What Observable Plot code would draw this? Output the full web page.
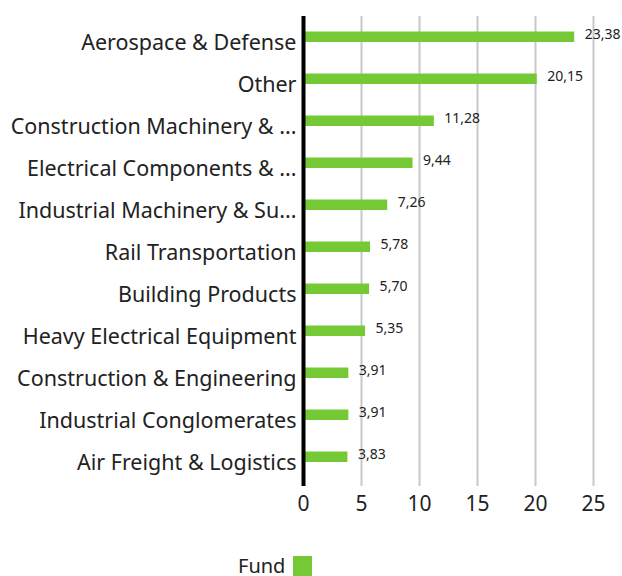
<!DOCTYPE html>
<html>
<head>
<meta charset="utf-8">
<script src="https://cdn.jsdelivr.net/npm/d3@7"></script>
<script src="https://cdn.jsdelivr.net/npm/@observablehq/plot@0.6"></script>
<style>
  body { margin: 0; background: #fff; font-family: "Noto Sans", sans-serif; color: #222; }
  #legend { display: flex; align-items: flex-end; margin-left: 238px; margin-top: 24px; font-size: 20px; line-height: 20px; }
  #legend .sw { width: 19px; height: 20px; background: #74c935; margin-left: 8px; }
</style>
</head>
<body>
<div id="chart"></div>
<div id="legend"><span>Fund</span><span class="sw"></span></div>
<script>
const categories = [
  "Aerospace & Defense",
  "Other",
  "Construction Machinery & ...",
  "Electrical Components & ...",
  "Industrial Machinery & Su...",
  "Rail Transportation",
  "Building Products",
  "Heavy Electrical Equipment",
  "Construction & Engineering",
  "Industrial Conglomerates",
  "Air Freight & Logistics"
];
const values = [23.38, 20.15, 11.28, 9.44, 7.26, 5.78, 5.70, 5.35, 3.91, 3.91, 3.83];
const xTicks = [0, 5, 10, 15, 20, 25];
const seriesName = "Fund";

const data = categories.map((c, i) => ({category: c, value: values[i]}));
const fmt = v => v.toFixed(2).replace(".", ",");

const chart = Plot.plot({
  width: 622,
  height: 532,
  marginTop: 16,
  marginBottom: 46,
  marginLeft: 303,
  marginRight: 29,
  style: {fontFamily: "Noto Sans, sans-serif", color: "#222", background: "#fff"},
  x: {domain: [0, 25], ticks: xTicks, label: null},
  y: {domain: categories, padding: 0, insetTop: 0, insetBottom: 3, label: null},
  marks: [
    Plot.gridX(xTicks.slice(1), {stroke: "#c8c8c8", strokeOpacity: 1, strokeWidth: 2}),
    Plot.barX(data, {x: "value", y: "category", fill: "#74c935", insetTop: 12.5, insetBottom: 19}),
    Plot.text(data, {x: "value", y: "category", text: d => fmt(d.value), textAnchor: "start", dx: 10, dy: -6, fontSize: 14, fill: "#222"}),
    Plot.ruleX([0], {stroke: "black", strokeWidth: 4}),
    Plot.axisY({tickSize: 0, tickPadding: 7, fontSize: 21.5, dy: 3, label: null}),
    Plot.axisX({ticks: xTicks, tickSize: 0, tickPadding: 10, fontSize: 21, label: null})
  ]
});
document.getElementById("chart").appendChild(chart);
</script>
</body>
</html>
